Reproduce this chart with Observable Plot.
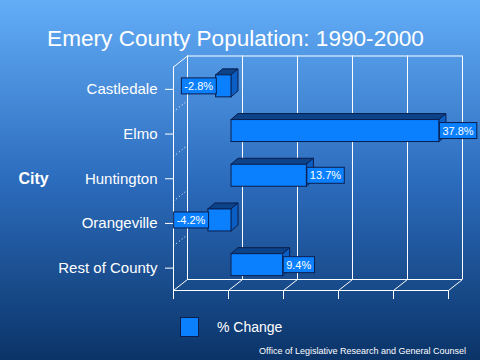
<!DOCTYPE html>
<html>
<head>
<meta charset="utf-8">
<script src="https://cdn.jsdelivr.net/npm/d3@7"></script>
<script src="https://cdn.jsdelivr.net/npm/@observablehq/plot@0.6"></script>
<style>
  html, body { margin: 0; padding: 0; }
  body {
    width: 480px; height: 360px; overflow: hidden;
    background: linear-gradient(to bottom, #63adf7 0%, #2c6cbd 50%, #0b3468 100%);
    font-family: "Liberation Sans", Arial, sans-serif; color: #fff;
  }
  #title { height: 27px; padding-top: 25px; line-height: 27px; font-size: 22.6px; text-align: center; padding-right: 9px; white-space: nowrap; }
  #chart { height: 255px; }
  #legend { height: 20px; margin-top: 10px; display: flex; align-items: center; padding-left: 180px; font-size: 14px; }
  #legend .sw { width: 17px; height: 18px; background: #0a80ff; border: 1px solid #0a1e4e; margin-right: 18px; }
  #caption { font-size: 9px; text-align: right; padding-right: 14px; margin-top: 9px; white-space: nowrap; }
</style>
</head>
<body>
<div id="title">Emery County Population: 1990-2000</div>
<div id="chart"></div>
<div id="legend"><div class="sw"></div><span>% Change</span></div>
<div id="caption">Office of Legislative Research and General Counsel</div>
<script>
const cities = ["Castledale", "Elmo", "Huntington", "Orangeville", "Rest of County"];
const pctChange = [-2.8, 37.8, 13.7, -4.2, 9.4];
const xTicks = [-10, 0, 10, 20, 30, 40];
const axisTitle = "City";

const data = cities.map((city, i) => {
  const v = pctChange[i];
  return {city, i, v, lo: Math.min(0, v), hi: Math.max(0, v), label: v.toFixed(1) + "%"};
});

// 3D geometry helpers (in data units)
const half = 0.246;          // half of bar thickness
const bdx = 1.273, bdy = 0.134;  // bar depth
const wdx = 2.545, wdy = 0.246;  // wall depth

const topFace = data.flatMap(d => [
  {city: d.city, y: d.i - half, x1: d.lo, x2: d.hi},
  {city: d.city, y: d.i - half - bdy, x1: d.lo + bdx, x2: d.hi + bdx}
]);
const sideFace = data.flatMap(d => [
  {city: d.city, x: d.hi, y1: d.i + half, y2: d.i - half},
  {city: d.city, x: d.hi + bdx, y1: d.i + half - bdy, y2: d.i - half - bdy}
]);

const FRONT = "#0a80ff", TOP = "#0b4288", SIDE = "#0a5ec4", EDGE = "#0a1e4e";
const yMin = -0.5, yMax = 4.5;
const bars = {dx: 3, dy: -3};

const plot = Plot.plot({
  width: 480,
  height: 255,
  marginLeft: 173,
  marginRight: 32,
  marginTop: 0,
  marginBottom: 17,
  style: {background: "transparent", color: "white", fontFamily: "Liberation Sans, Arial, sans-serif", overflow: "visible"},
  x: {domain: [-10, 40], label: null},
  y: {domain: [yMin, yMax], range: [14.5, 238], label: null},
  marks: [
    // back wall
    Plot.ruleX(xTicks, {x: d => d, y1: () => yMin, y2: () => yMax, dx: 14, dy: -11, stroke: "white"}),
    Plot.ruleY([yMin, yMax], {y: d => d, x1: () => -10, x2: () => 40, dx: 14, dy: -11, stroke: "white"}),
    // floor diagonals
    Plot.link(xTicks, {x1: d => d, y1: () => yMax, x2: d => d + wdx, y2: () => yMax - wdy, stroke: "white"}),
    Plot.link([-10], {x1: d => d, y1: () => yMin, x2: d => d + wdx, y2: () => yMin - wdy, stroke: "white"}),
    Plot.link([0.5, 1.5, 2.5, 3.5], {x1: () => -10, y1: d => d, x2: () => -10 + wdx, y2: d => d - wdy, stroke: "white", strokeDasharray: "1,2.5"}),
    // front frame
    Plot.ruleX([-10], {x: d => d, y1: () => yMin, y2: () => yMax, stroke: "white"}),
    Plot.ruleY([yMax], {y: d => d, x1: () => -10, x2: () => 40, stroke: "white"}),
    Plot.axisX({ticks: xTicks, tickSize: 9, tickFormat: () => "", stroke: "white", label: null}),
    Plot.axisY({ticks: [0, 1, 2, 3, 4], tickFormat: i => cities[i], tickSize: 8, tickPadding: 8, fontSize: 15, fill: "white", stroke: "white", label: null}),
    Plot.text([axisTitle], {text: d => d, y: () => 2, frameAnchor: "left", dx: -140, fontSize: 16, fontWeight: "bold", fill: "white", textAnchor: "middle"}),
    // bars
    Plot.areaX(topFace, {y: "y", x1: "x1", x2: "x2", z: "city", fill: TOP, stroke: EDGE, strokeWidth: 1, ...bars}),
    Plot.areaY(sideFace, {x: "x", y1: "y1", y2: "y2", z: "city", fill: SIDE, stroke: EDGE, strokeWidth: 1, ...bars}),
    Plot.rect(data, {x1: "lo", x2: "hi", y1: d => d.i - half, y2: d => d.i + half, fill: FRONT, stroke: EDGE, strokeWidth: 1, ...bars}),
    // value labels
    Plot.text(data.filter(d => d.v >= 0), {x: "v", y: "i", text: "label", textAnchor: "start", dx: 6, dy: -3, fontSize: 11, fill: "white", className: "lbl"}),
    Plot.text(data.filter(d => d.v < 0), {x: "v", y: "i", text: "label", textAnchor: "end", dx: 0, dy: -3, fontSize: 11, fill: "white", className: "lbl"})
  ]
});
document.getElementById("chart").appendChild(plot);

// label boxes behind value labels
plot.querySelectorAll("g.lbl text").forEach(t => {
  const b = t.getBBox();
  const cy = b.y + b.height / 2;
  const r = document.createElementNS("http://www.w3.org/2000/svg", "rect");
  r.setAttribute("x", b.x - 3);
  r.setAttribute("y", cy - 8);
  r.setAttribute("width", b.width + 6);
  r.setAttribute("height", 16);
  r.setAttribute("fill", FRONT);
  r.setAttribute("stroke", EDGE);
  if (t.getAttribute("transform")) r.setAttribute("transform", t.getAttribute("transform"));
  t.parentNode.insertBefore(r, t);
});
</script>
</body>
</html>
